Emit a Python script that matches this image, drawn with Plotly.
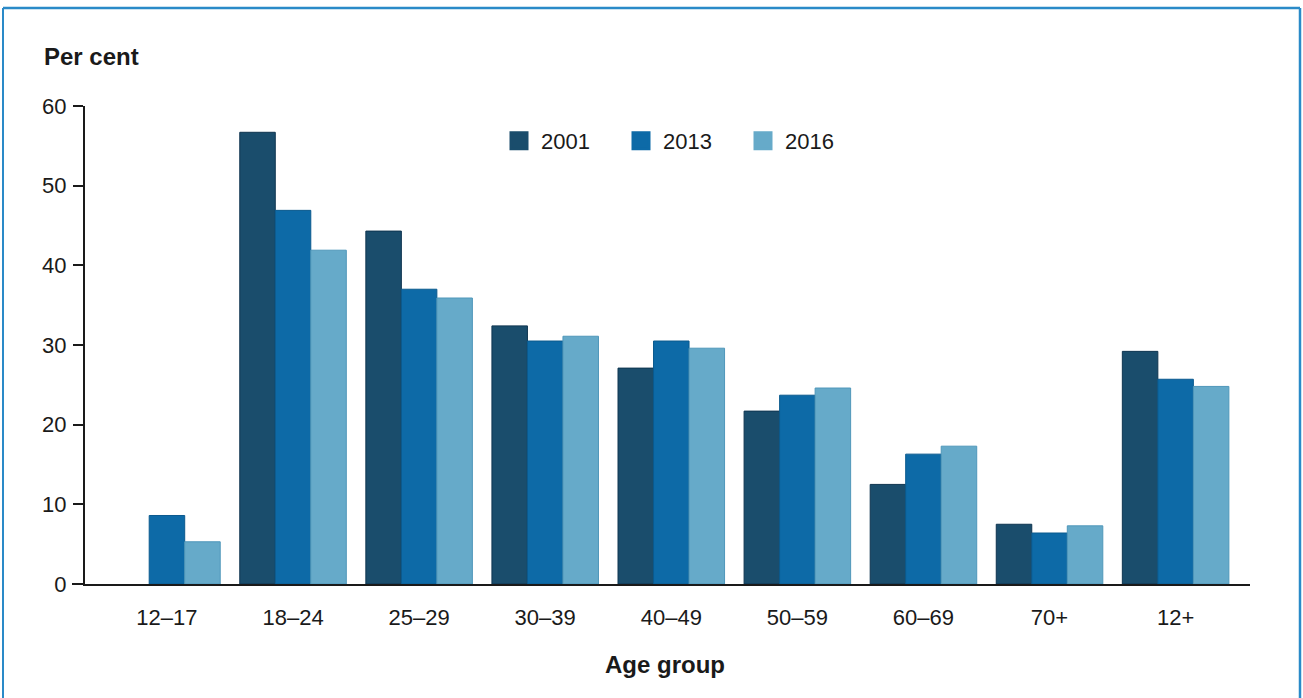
import plotly.graph_objects as go

categories = ["12–17", "18–24", "25–29", "30–39", "40–49", "50–59", "60–69", "70+", "12+"]
years = ["2001", "2013", "2016"]
values_2001 = [None, 56.7, 44.3, 32.4, 27.1, 21.7, 12.5, 7.5, 29.2]
values_2013 = [8.6, 46.9, 37.0, 30.5, 30.5, 23.7, 16.3, 6.4, 25.7]
values_2016 = [5.3, 41.9, 35.9, 31.1, 29.6, 24.6, 17.3, 7.3, 24.8]
colors = ["#1a4d6c", "#0d6aa7", "#66aac9"]
edges = ["#0f3550", "#0b5a8e", "#4f97ba"]

series = [values_2001, values_2013, values_2016]

W, H = 1303, 698
L, R, T, B = 85, 53, 106, 114
pw = W - L - R
ph = H - T - B

def px(x):
    return (x - L) / pw

def py(y):
    return (H - B - y) / ph

fig = go.Figure()
for name, vals, c, e in zip(years, series, colors, edges):
    fig.add_trace(go.Bar(
        x=categories, y=vals, name=name, showlegend=False,
        marker=dict(color=c, line=dict(color=e, width=1)),
    ))
# legend entries with larger square swatches
for name, c, e in zip(years, colors, edges):
    fig.add_trace(go.Scatter(
        x=[None], y=[None], name=name, mode="markers",
        marker=dict(symbol="square", size=16, color=c, line=dict(color=c, width=3)),
    ))

font_family = "Liberation Sans, Arial, sans-serif"

fig.update_layout(
    width=W, height=H,
    margin=dict(l=L, r=R, t=T, b=B, autoexpand=False),
    paper_bgcolor="white", plot_bgcolor="white",
    barmode="group", bargap=0.155, bargroupgap=0,
    font=dict(family=font_family, size=22, color="#1a1a1a"),
    showlegend=True,
    legend=dict(
        orientation="h", x=px(497), xanchor="left", y=py(141), yanchor="middle",
        font=dict(size=22), itemwidth=34, traceorder="normal",
        entrywidth=73, entrywidthmode="pixels",
        bgcolor="rgba(0,0,0,0)", itemclick=False, itemdoubleclick=False,
    ),
    xaxis=dict(
        range=[-0.65, 8.59], showgrid=False, zeroline=False,
        showline=True, linecolor="#1a1a1a", linewidth=2,
        ticks="", ticklabelstandoff=13, tickfont=dict(size=22),
        fixedrange=True,
    ),
    yaxis=dict(
        range=[0, 60], tickvals=[0, 10, 20, 30, 40, 50, 60],
        showgrid=False, zeroline=False,
        showline=True, linecolor="#1a1a1a", linewidth=2,
        ticks="outside", ticklen=10, tickwidth=2, tickcolor="#1a1a1a",
        ticklabelstandoff=2, tickfont=dict(size=22),
        fixedrange=True,
    ),
    annotations=[
        dict(text="<b>Per cent</b>", xref="paper", yref="paper",
             x=px(42), y=py(56), xanchor="left", yanchor="middle",
             showarrow=False, font=dict(size=24, family=font_family)),
        dict(text="<b>Age group</b>", xref="paper", yref="paper",
             x=px(665), y=py(664), xanchor="center", yanchor="middle",
             showarrow=False, font=dict(size=24, family=font_family)),
    ],
    shapes=[
        # x-axis extension to the left of the y-axis
        dict(type="line", xref="paper", yref="paper", x0=px(72), x1=0, y0=0, y1=0,
             line=dict(color="#1a1a1a", width=2)),
        # frame
        dict(type="line", xref="paper", yref="paper", x0=px(3), x1=px(1300), y0=py(8), y1=py(8),
             line=dict(color="#2a8ac8", width=2.5)),
        dict(type="line", xref="paper", yref="paper", x0=px(3), x1=px(3), y0=py(8), y1=py(720),
             line=dict(color="#2a8ac8", width=2)),
        dict(type="line", xref="paper", yref="paper", x0=px(1300), x1=px(1300), y0=py(8), y1=py(720),
             line=dict(color="#2a8ac8", width=2.5)),
    ],
)

fig.write_html(
    "out.html",
    config={"displayModeBar": False},
    post_script="document.body.style.margin='0';document.body.style.overflow='hidden';",
)
